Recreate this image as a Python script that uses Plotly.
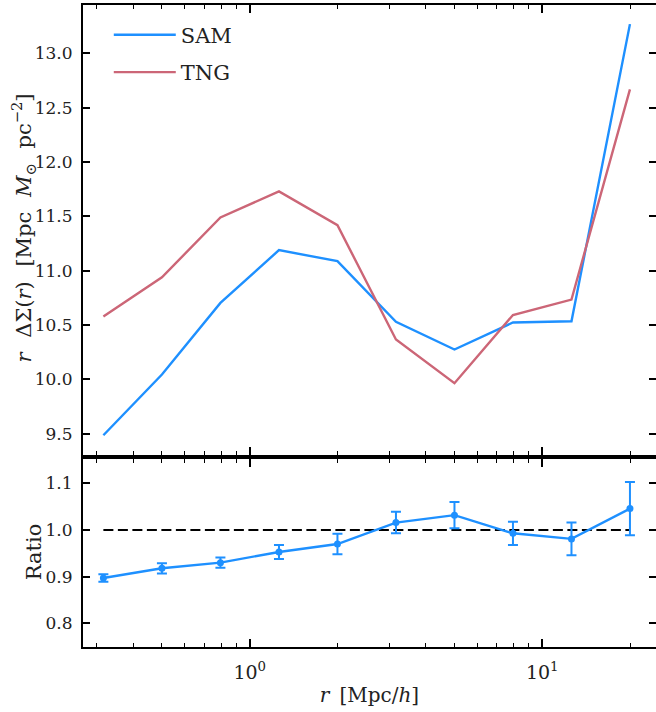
import numpy as np
import plotly.graph_objects as go
from plotly.subplots import make_subplots

# Data
r = [0.316, 0.501, 0.794, 1.259, 1.995, 3.162, 5.012, 7.943, 12.59, 19.95]
sam = [9.486, 10.045, 10.704, 11.19, 11.088, 10.53, 10.275, 10.524, 10.535, 13.27]
tng = [10.58, 10.94, 11.49, 11.73, 11.42, 10.367, 9.965, 10.593, 10.735, 12.67]
ratio = [0.897, 0.918, 0.930, 0.953, 0.970, 1.016, 1.032, 0.993, 0.981, 1.046]
ratio_err = [0.008, 0.011, 0.011, 0.015, 0.022, 0.023, 0.028, 0.025, 0.035, 0.057]

top_ticks = [9.5, 10.0, 10.5, 11.0, 11.5, 12.0, 12.5, 13.0]
bot_ticks = [0.8, 0.9, 1.0, 1.1]
x_major = [1, 10]
x_major_text = ["10<sup>0</sup>", "10<sup>1</sup>"]
x_minor = [0.3, 0.4, 0.5, 0.6, 0.7, 0.8, 0.9, 2, 3, 4, 5, 6, 7, 8, 9, 20]

SAM_C = "#1E90FF"
TNG_C = "#CC6677"
FONT = "DejaVu Serif"
TXT = "#222"
SP = "\u2002"
GAP = "\u2002\u2009"

fig = make_subplots(rows=2, cols=1, shared_xaxes=True, vertical_spacing=0.006,
                    row_heights=[0.7, 0.3])

fig.add_trace(go.Scatter(x=r, y=sam, mode="lines", name="SAM", legendgroup="a",
                         line=dict(color=SAM_C, width=2.4)), row=1, col=1)
fig.add_trace(go.Scatter(x=r, y=tng, mode="lines", name="TNG", legendgroup="b",
                         line=dict(color=TNG_C, width=2.4)), row=1, col=1)

fig.add_trace(go.Scatter(x=[r[0], r[-1]], y=[1.0, 1.0], mode="lines", showlegend=False,
                         line=dict(color="black", width=2, dash="10px,4.5px")), row=2, col=1)
fig.add_trace(go.Scatter(x=r, y=ratio, mode="lines+markers", showlegend=False,
                         line=dict(color=SAM_C, width=2.4),
                         marker=dict(color=SAM_C, size=7),
                         error_y=dict(type="data", array=ratio_err, color=SAM_C,
                                      thickness=2, width=5)), row=2, col=1)

xcommon = dict(type="log", range=[-0.570, 1.389], showline=True, linewidth=2,
               linecolor="black", mirror="allticks", ticks="inside", ticklen=8,
               tickwidth=1.5, tickcolor="black", tickvals=x_major, ticktext=x_major_text,
               showgrid=False, zeroline=False, automargin=False, ticklabelstandoff=7,
               minor=dict(ticks="inside", ticklen=4, tickwidth=1.2, tickcolor="black",
                          tickvals=x_minor, showgrid=False),
               tickfont=dict(family=FONT, size=19, color=TXT))
fig.update_xaxes(**xcommon)
fig.update_xaxes(showticklabels=False, row=1, col=1)
fig.update_xaxes(title=dict(text="<i>r</i>" + SP + "[Mpc/<i>h</i>]", standoff=6,
                            font=dict(family=FONT, size=20, color=TXT)), row=2, col=1)

ycommon = dict(showline=True, linewidth=2, linecolor="black", mirror="allticks",
               ticks="inside", ticklen=7, tickwidth=1.5, tickcolor="black",
               showgrid=False, zeroline=False, tickformat=".1f", ticklabelstandoff=5,
               automargin=False,
               tickfont=dict(family=FONT, size=17, color=TXT))
fig.update_yaxes(**ycommon)
fig.update_yaxes(range=[9.302, 13.446], tickvals=top_ticks, row=1, col=1)
fig.update_yaxes(range=[0.749, 1.152], tickvals=bot_ticks, row=2, col=1)

ytitle = ("<i>r</i>" + GAP + "ΔΣ(<i>r</i>)" + GAP + "[Mpc" + GAP + "<i>M</i><sub>⊙</sub>"
          + GAP + "pc<sup>−2</sup>]")
fig.add_annotation(text=ytitle, xref="paper", yref="paper", x=-0.104, y=0.6525,
                   xanchor="center", yanchor="middle", textangle=-90, showarrow=False,
                   font=dict(family=FONT, size=21, color=TXT))
fig.add_annotation(text="Ratio", xref="paper", yref="paper", x=-0.0855, y=0.1476,
                   xanchor="center", yanchor="middle", textangle=-90, showarrow=False,
                   font=dict(family=FONT, size=21, color=TXT))

fig.update_layout(
    width=656, height=712,
    margin=dict(l=83, r=0, t=5, b=65),
    plot_bgcolor="white", paper_bgcolor="white",
    font=dict(family=FONT, color=TXT),
    legend=dict(x=0.045, y=0.985, xanchor="left", yanchor="top",
                bgcolor="rgba(0,0,0,0)", font=dict(family=FONT, size=21, color=TXT),
                itemwidth=62, tracegroupgap=7),
)
fig.update_layout(yaxis=dict(domain=[0.2987, 1.0]), yaxis2=dict(domain=[0.0, 0.2925]))

fig.write_html("out.html", config={"displayModeBar": False},
               post_script="document.body.style.margin='0';document.body.style.overflow='hidden';")
